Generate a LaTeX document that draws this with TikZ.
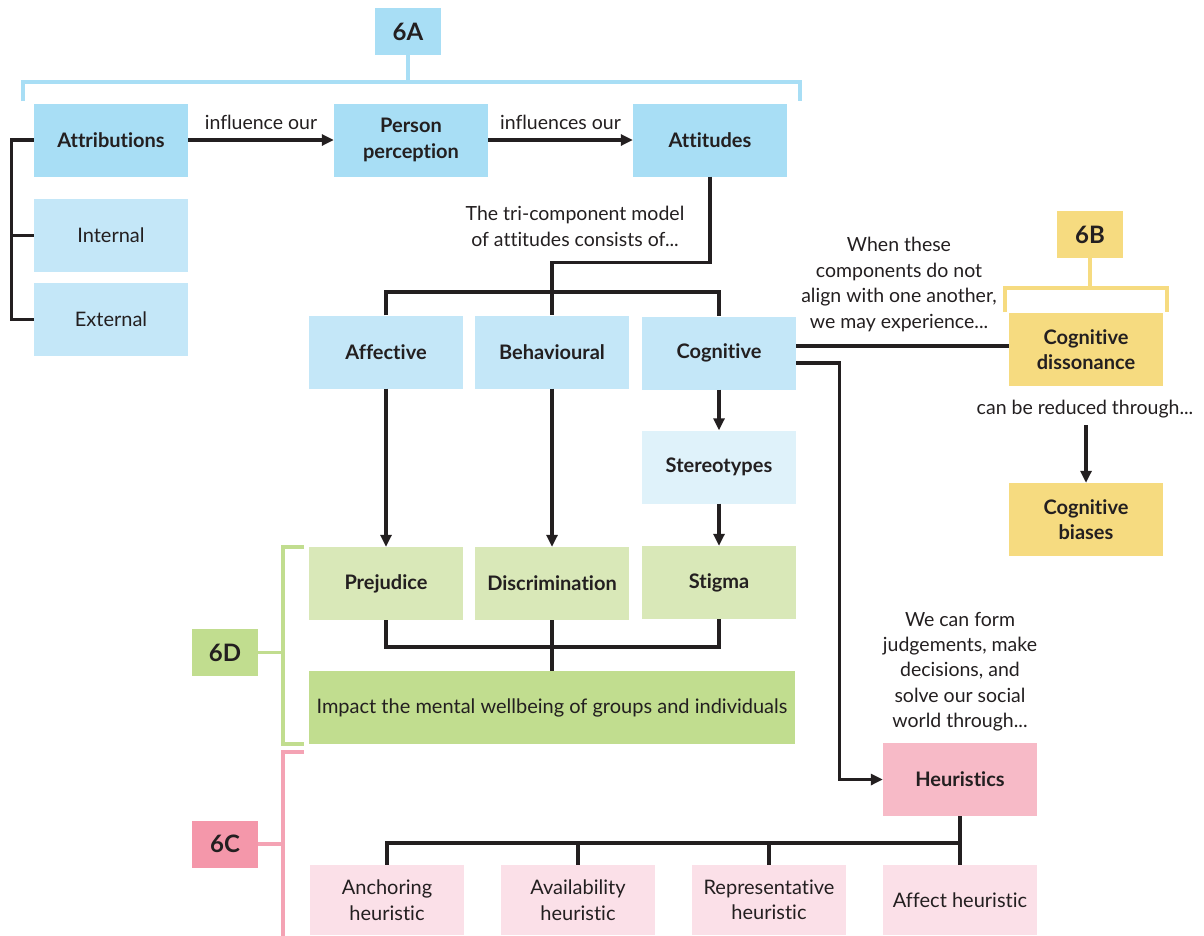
\documentclass[tikz,border=0pt]{standalone}
\usepackage{fontspec}
\setmainfont{Lato}[Ligatures={NoCommon}]
\usetikzlibrary{arrows.meta}
\definecolor{ink}{HTML}{231F20}
\definecolor{blueD}{HTML}{A8DEF5}
\definecolor{blueL}{HTML}{C4E7F8}
\definecolor{blueXL}{HTML}{DFF2FA}
\definecolor{greenL}{HTML}{D9E8B8}
\definecolor{greenD}{HTML}{C1DD8F}
\definecolor{pinkD}{HTML}{F7BAC7}
\definecolor{pinkC}{HTML}{F497AA}
\definecolor{pinkL}{HTML}{FBE0E8}
\definecolor{pinkLine}{HTML}{F4A3B4}
\definecolor{yel}{HTML}{F6DB80}
\tikzset{
  box/.style={minimum width=154pt, minimum height=73pt, inner sep=2pt, align=center,
    text=ink, font=\fontsize{20}{25.5}\selectfont},
  bbox/.style={box, font=\fontsize{20}{25.5}\selectfont\bfseries},
  tag/.style={minimum width=66pt, minimum height=47pt, inner sep=0pt, text=ink,
    font=\fontsize{24}{28}\selectfont\bfseries},
  lbl/.style={align=center, text=ink, inner sep=0pt, font=\fontsize{19.5}{25.4}\selectfont},
  conn/.style={draw=ink, line width=3.1pt},
  arr/.style={conn, -{Triangle[length=12pt,width=11pt]}},
  brk/.style={line width=3.1pt},
}
\begin{document}
\begin{tikzpicture}[x=1pt, y=-1pt]
\useasboundingbox (0,0) rectangle (1204,935);

% ---- section 6A: attributions, person perception, attitudes
\node[tag, fill=blueD] (a6) at (408,31.5) {6A};
\node[bbox, fill=blueD] (attr) at (111,140) {Attributions};
\node[bbox, fill=blueD] (pp) at (411,140) {Person\\perception};
\node[bbox, fill=blueD] (att) at (710,140) {Attitudes};
\node[box, fill=blueL] (int) at (111,235.5) {Internal};
\node[box, fill=blueL] (ext) at (111,319.5) {External};

\coordinate (aL) at (23,101);
\coordinate (aR) at (800,101);
\coordinate (aM) at (408,82);
\draw[brk, draw=blueD] (aL) |- (aR |- aM) -- (aR);
\draw[brk, draw=blueD] (a6.south) -- (aM);

\draw[arr] (attr.east) -- node[lbl, above=9pt] {influence our} (pp.west);
\draw[arr] (pp.east) -- node[lbl, above=9pt] {influences our} (att.west);

\draw[conn] (attr.west) -- ++(-22,0) |- (ext.west);
\draw[conn] (int.west) -- ++(-22,0);

% ---- tri-component model
\node[bbox, fill=blueL] (aff) at (386,352) {Affective};
\node[bbox, fill=blueL] (beh) at (552,352) {Behavioural};
\node[bbox, fill=blueL] (cog) at (719,353) {Cognitive};
\node[lbl] (tri-lbl) at (575,226.5) {The tri-component model\\of attitudes consists of...};
\coordinate (tri) at (552,292);
\draw[conn] (att.south) -- ++(0,85.5) -| (tri);
\draw[conn] (aff.north) |- (tri) -| (cog.north);
\draw[conn] (tri) -- (beh.north);

% ---- section 6B: cognitive dissonance
\node[tag, fill=yel] (b6) at (1090,234.5) {6B};
\node[bbox, fill=yel] (cd) at (1086,349.5) {Cognitive\\dissonance};
\node[bbox, fill=yel] (cb) at (1086,519.5) {Cognitive\\biases};
\coordinate (bL) at (1005,312);
\coordinate (bR) at (1167,312);
\coordinate (bM) at (1090,288);
\draw[brk, draw=yel] (bL) |- (bR |- bM) -- (bR);
\draw[brk, draw=yel] (b6.south) -- (bM);
\node[lbl] (wt-lbl) at (899,284.5) {When these\\components do not\\align with one another,\\we may experience...};
\draw[conn] ([yshift=3.5pt]cd.west) -- ([yshift=3.5pt]cd.west -| cog.east);
\node[lbl] (cr-lbl) at (1085,409) {can be reduced through...};
\draw[arr] (cr-lbl.south -| cb.north) ++(0,7) -- (cb.north);

% ---- stereotypes and outcomes
\node[bbox, fill=blueXL] (ster) at (719,467) {Stereotypes};
\node[bbox, fill=greenL] (prej) at (386,583.5) {Prejudice};
\node[bbox, fill=greenL] (disc) at (552,583.5) {Discrimination};
\node[bbox, fill=greenL] (stig) at (719,582.5) {Stigma};
\node[box, fill=greenD, minimum width=486pt] (imp) at (552,707.5)
  {Impact the mental wellbeing of groups and individuals};
\draw[arr] (cog.south) -- (ster.north);
\draw[arr] (ster.south) -- (stig.north);
\draw[arr] (aff.south) -- (prej.north);
\draw[arr] (beh.south) -- (disc.north);
\coordinate (j) at (552,647);
\draw[conn] (prej.south) |- (j) -| (stig.south);
\draw[conn] (disc.south) -- (imp.north);

% ---- section 6D
\node[tag, fill=greenD] (d6) at (225,652.5) {6D};
\draw[brk, draw=greenD] (304,547) -- (283,547) -- (283,744) -- (304,744);
\draw[brk, draw=greenD] (d6.east) -- (283,652.5);

% ---- section 6C: heuristics
\node[bbox, fill=pinkD] (heur) at (960,779.5) {Heuristics};
\node[lbl] (wc-lbl) at (960,671.5) {We can form\\judgements, make\\decisions, and\\solve our social\\world through...};
\draw[arr] ([yshift=-10pt]cog.east) -- ++(43,0) |- (heur.west);
\node[box, fill=pinkL, minimum height=70pt] (anch) at (387,900) {Anchoring\\heuristic};
\node[box, fill=pinkL, minimum height=70pt] (avail) at (578,900) {Availability\\heuristic};
\node[box, fill=pinkL, minimum height=70pt] (repr) at (769,900) {Representative\\heuristic};
\node[box, fill=pinkL, minimum height=70pt] (affh) at (960,900) {Affect heuristic};
\coordinate (hb) at (960,843);
\draw[conn] (heur.south) -- (affh.north);
\draw[conn] (anch.north) |- (hb);
\draw[conn] (avail.north) |- (hb);
\draw[conn] (repr.north) |- (hb);

\node[tag, fill=pinkC] (c6) at (225,844) {6C};
\draw[brk, draw=pinkLine] (304,752) -- (283,752) -- (283,940);
\draw[brk, draw=pinkLine] (c6.east) -- (283,844);
\end{tikzpicture}
\end{document}
